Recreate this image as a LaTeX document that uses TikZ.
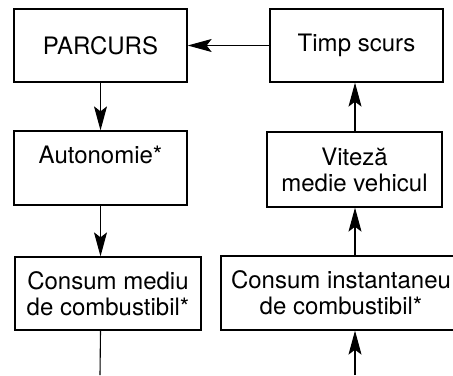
\documentclass[tikz,border=0pt]{standalone}
\usepackage{fontspec}
\setmainfont{TeX Gyre Heros}
\usetikzlibrary{arrows.meta}

\begin{document}
\begin{tikzpicture}[
            x=0.5pt, y=-0.5pt,
            >={Stealth[length=12pt, width=6.5pt, inset=2.5pt]},
            blok/.style={
                draw, line width=0.65pt, inner sep=0pt, align=center,
                font=\fontsize{12}{13}\selectfont
            },
            link/.style={line width=0.55pt}
        ]
            \useasboundingbox (0,0) rectangle (453,375);

            % Left column
            \node[blok, minimum width=86.5pt, minimum height=36.5pt] (parcurs) at (100.5,45.5) {PARCURS};
            \node[blok, minimum width=86.5pt, minimum height=37pt] (autonomie) at (100.5,168) {Autonomie*\\\mbox{}};
            \node[blok, minimum width=93pt, minimum height=36.5pt] (mediu) at (108,293.5) {Consum mediu\\de combustibil*};

            % Right column
            \node[blok, minimum width=86.5pt, minimum height=36.5pt] (timp) at (356.5,45.5) {Timp scurs};
            \node[blok, minimum width=87.5pt, minimum height=37.5pt] (viteza) at (354.5,169.5) {Viteză\\medie vehicul};
            \node[blok, minimum width=120pt, minimum height=37pt] (instant) at (341,293) {Consum instantaneu\\de combustibil*};

            % Loose ends at the bottom
            \coordinate (iesire) at (100,375);
            \coordinate (intrare) at (355,375);

            % Connectors
            \draw[link, ->] (timp.west) -- (parcurs.east);
            \draw[link, ->] (parcurs.south) -- (autonomie.north);
            \draw[link, ->] (autonomie.south) -- (autonomie.south |- mediu.north);
            \draw[link] (autonomie.south |- mediu.south) -- (iesire);
            \draw[link, ->] (intrare) -- (intrare |- instant.south);
            \draw[link, ->] (intrare |- instant.north) -- (intrare |- viteza.south);
            \draw[link, ->] (intrare |- viteza.north) -- (intrare |- timp.south);

        \end{tikzpicture}
\end{document}
